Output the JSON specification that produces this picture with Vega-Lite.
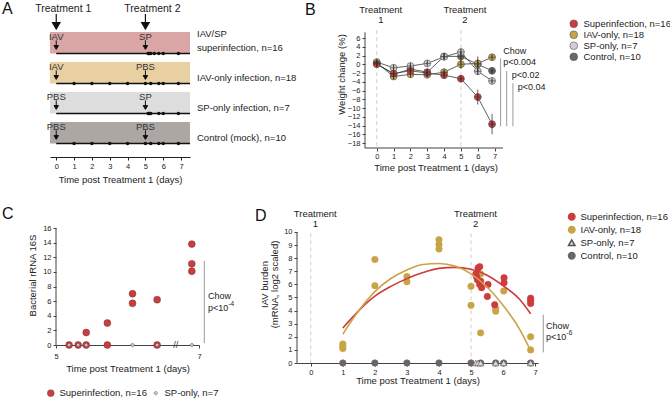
{
  "$schema": "https://vega.github.io/schema/vega-lite/v6.json",
  "padding": {"left": 2, "top": 0, "right": 2, "bottom": 2},
  "background": "white",
  "config": {
    "view": {"stroke": null},
    "font": "Liberation Sans",
    "axis": {"labelFont": "Liberation Sans", "titleFont": "Liberation Sans", "grid": false, "labelColor": "#222", "titleColor": "#222", "titleFontWeight": "normal", "domainColor": "#444", "tickColor": "#444", "labelFontSize": 7.5, "titleFontSize": 9.5, "tickSize": 3, "labelAngle": 0, "labelOverlap": false, "labelBound": false, "labelFlush": false},
    "legend": {"labelFont": "Liberation Sans", "labelColor": "#222"}
  },
  "datasets": {
    "treat": [{"day": 0, "label": "Treatment 1"}, {"day": 5, "label": "Treatment 2"}],
    "aRows": [
      {"group": "IAV/SP superinfection", "pre": "IAV/SP", "label": "superinfection, n=16"},
      {"group": "IAV-only infection", "pre": "", "label": "IAV-only infection, n=18"},
      {"group": "SP-only infection", "pre": "", "label": "SP-only infection, n=7"},
      {"group": "Control (mock)", "pre": "", "label": "Control (mock), n=10"}
    ],
    "aAgents": [
      {"group": "IAV/SP superinfection", "day": 0, "agent": "IAV"},
      {"group": "IAV/SP superinfection", "day": 5, "agent": "SP"},
      {"group": "IAV-only infection", "day": 0, "agent": "IAV"},
      {"group": "IAV-only infection", "day": 5, "agent": "PBS"},
      {"group": "SP-only infection", "day": 0, "agent": "PBS"},
      {"group": "SP-only infection", "day": 5, "agent": "SP"},
      {"group": "Control (mock)", "day": 0, "agent": "PBS"},
      {"group": "Control (mock)", "day": 5, "agent": "PBS"}
    ],
    "aDots": [
      {"group": "IAV/SP superinfection", "day": 5.15}, {"group": "IAV/SP superinfection", "day": 5.2}, {"group": "IAV/SP superinfection", "day": 5.25}, {"group": "IAV/SP superinfection", "day": 5.3}, {"group": "IAV/SP superinfection", "day": 5.5}, {"group": "IAV/SP superinfection", "day": 5.75}, {"group": "IAV/SP superinfection", "day": 6.0}, {"group": "IAV/SP superinfection", "day": 6.85},
      {"group": "IAV-only infection", "day": 1}, {"group": "IAV-only infection", "day": 2}, {"group": "IAV-only infection", "day": 3}, {"group": "IAV-only infection", "day": 4}, {"group": "IAV-only infection", "day": 5}, {"group": "IAV-only infection", "day": 5.3}, {"group": "IAV-only infection", "day": 5.75}, {"group": "IAV-only infection", "day": 6.0}, {"group": "IAV-only infection", "day": 6.85},
      {"group": "SP-only infection", "day": 5.15}, {"group": "SP-only infection", "day": 5.2}, {"group": "SP-only infection", "day": 5.25}, {"group": "SP-only infection", "day": 5.3}, {"group": "SP-only infection", "day": 5.75}, {"group": "SP-only infection", "day": 6.0}, {"group": "SP-only infection", "day": 6.85},
      {"group": "Control (mock)", "day": 1}, {"group": "Control (mock)", "day": 2}, {"group": "Control (mock)", "day": 3}, {"group": "Control (mock)", "day": 4}, {"group": "Control (mock)", "day": 5}, {"group": "Control (mock)", "day": 5.3}, {"group": "Control (mock)", "day": 5.75}, {"group": "Control (mock)", "day": 6.0}, {"group": "Control (mock)", "day": 6.85}
    ],
    "bData": [
      {"group": "Control", "day": 0, "mean": 0.2, "lo": -0.2, "hi": 0.6}, {"group": "Control", "day": 1, "mean": -2.3, "lo": -2.9, "hi": -1.7}, {"group": "Control", "day": 2, "mean": -1.1, "lo": -2.0, "hi": -0.2}, {"group": "Control", "day": 3, "mean": -1.8, "lo": -2.3, "hi": -1.3}, {"group": "Control", "day": 4, "mean": 1.8, "lo": 1.1, "hi": 2.5}, {"group": "Control", "day": 5, "mean": 1.8, "lo": 0.8, "hi": 2.8}, {"group": "Control", "day": 6, "mean": 0.0, "lo": -1.8, "hi": 1.8}, {"group": "Control", "day": 6.85, "mean": -1.5, "lo": -2.0, "hi": -1.0},
      {"group": "SP-only", "day": 0, "mean": 0.5, "lo": 0.1, "hi": 0.9}, {"group": "SP-only", "day": 1, "mean": -0.8, "lo": -1.4, "hi": -0.2}, {"group": "SP-only", "day": 2, "mean": -0.4, "lo": -1.0, "hi": 0.2}, {"group": "SP-only", "day": 3, "mean": 0.2, "lo": -0.3, "hi": 0.7}, {"group": "SP-only", "day": 4, "mean": 1.7, "lo": 1.1, "hi": 2.3}, {"group": "SP-only", "day": 5, "mean": 2.8, "lo": 2.1, "hi": 3.5}, {"group": "SP-only", "day": 6, "mean": -1.6, "lo": -2.4, "hi": -0.8}, {"group": "SP-only", "day": 6.85, "mean": -3.8, "lo": -4.3, "hi": -3.3},
      {"group": "IAV-only", "day": 0, "mean": 0.3, "lo": -0.1, "hi": 0.7}, {"group": "IAV-only", "day": 1, "mean": -2.8, "lo": -3.4, "hi": -2.2}, {"group": "IAV-only", "day": 2, "mean": -2.3, "lo": -2.8, "hi": -1.8}, {"group": "IAV-only", "day": 3, "mean": -2.4, "lo": -2.9, "hi": -1.9}, {"group": "IAV-only", "day": 4, "mean": -1.8, "lo": -2.4, "hi": -1.2}, {"group": "IAV-only", "day": 5, "mean": 0.0, "lo": -1.0, "hi": 1.0}, {"group": "IAV-only", "day": 6, "mean": 0.2, "lo": -0.6, "hi": 1.0}, {"group": "IAV-only", "day": 6.85, "mean": 1.6, "lo": 1.1, "hi": 2.1},
      {"group": "Superinfection", "day": 0, "mean": 0.0, "lo": -0.5, "hi": 0.5}, {"group": "Superinfection", "day": 1, "mean": -2.1, "lo": -2.8, "hi": -1.4}, {"group": "Superinfection", "day": 2, "mean": -1.5, "lo": -2.2, "hi": -0.8}, {"group": "Superinfection", "day": 3, "mean": -2.0, "lo": -2.6, "hi": -1.4}, {"group": "Superinfection", "day": 4, "mean": -2.5, "lo": -3.2, "hi": -1.8}, {"group": "Superinfection", "day": 5, "mean": -3.3, "lo": -3.9, "hi": -2.7}, {"group": "Superinfection", "day": 6, "mean": -7.5, "lo": -9.2, "hi": -5.8}, {"group": "Superinfection", "day": 6.85, "mean": -13.7, "lo": -16.0, "hi": -11.4}
    ],
    "cData": [
      {"group": "Superinfection", "day": 5.13, "value": 0}, {"group": "Superinfection", "day": 5.22, "value": 0}, {"group": "Superinfection", "day": 5.3, "value": 0}, {"group": "Superinfection", "day": 5.3, "value": 1.7}, {"group": "Superinfection", "day": 5.51, "value": 3.0}, {"group": "Superinfection", "day": 5.51, "value": 0}, {"group": "Superinfection", "day": 5.76, "value": 7.0}, {"group": "Superinfection", "day": 5.76, "value": 5.7}, {"group": "Superinfection", "day": 6.01, "value": 6.2}, {"group": "Superinfection", "day": 6.01, "value": 0}, {"group": "Superinfection", "day": 6.83, "value": 13.8}, {"group": "Superinfection", "day": 6.83, "value": 11.1}, {"group": "Superinfection", "day": 6.83, "value": 10.1},
      {"group": "SP-only", "day": 5.13, "value": 0}, {"group": "SP-only", "day": 5.22, "value": 0}, {"group": "SP-only", "day": 5.3, "value": 0}, {"group": "SP-only", "day": 5.76, "value": 0}, {"group": "SP-only", "day": 6.01, "value": 0}, {"group": "SP-only", "day": 6.83, "value": 0}
    ],
    "dPts": [
      {"group": "IAV-only", "day": 1, "value": 1.45}, {"group": "IAV-only", "day": 1, "value": 1.27}, {"group": "IAV-only", "day": 1, "value": 1.1}, {"group": "IAV-only", "day": 2, "value": 7.9}, {"group": "IAV-only", "day": 2, "value": 5.9}, {"group": "IAV-only", "day": 3, "value": 6.6}, {"group": "IAV-only", "day": 3, "value": 6.2}, {"group": "IAV-only", "day": 4, "value": 9.4}, {"group": "IAV-only", "day": 4, "value": 9.05}, {"group": "IAV-only", "day": 4, "value": 8.7}, {"group": "IAV-only", "day": 5, "value": 5.85}, {"group": "IAV-only", "day": 5, "value": 4.4}, {"group": "IAV-only", "day": 5.3, "value": 6.8}, {"group": "IAV-only", "day": 5.3, "value": 2.3}, {"group": "IAV-only", "day": 5.77, "value": 4.15}, {"group": "IAV-only", "day": 5.77, "value": 3.95}, {"group": "IAV-only", "day": 6.02, "value": 5.5}, {"group": "IAV-only", "day": 6.86, "value": 2.0}, {"group": "IAV-only", "day": 6.86, "value": 1.0},
      {"group": "Superinfection", "day": 5.17, "value": 6.6}, {"group": "Superinfection", "day": 5.22, "value": 7.25}, {"group": "Superinfection", "day": 5.27, "value": 7.35}, {"group": "Superinfection", "day": 5.2, "value": 6.35}, {"group": "Superinfection", "day": 5.27, "value": 6.0}, {"group": "Superinfection", "day": 5.33, "value": 5.75}, {"group": "Superinfection", "day": 5.15, "value": 6.8}, {"group": "Superinfection", "day": 5.3, "value": 6.25}, {"group": "Superinfection", "day": 5.53, "value": 6.0}, {"group": "Superinfection", "day": 5.51, "value": 5.08}, {"group": "Superinfection", "day": 5.74, "value": 4.45}, {"group": "Superinfection", "day": 6.03, "value": 6.5}, {"group": "Superinfection", "day": 6.03, "value": 6.12}, {"group": "Superinfection", "day": 6.86, "value": 4.95}, {"group": "Superinfection", "day": 6.86, "value": 4.75}, {"group": "Superinfection", "day": 6.86, "value": 4.55},
      {"group": "Control", "day": 1, "value": 0}, {"group": "Control", "day": 2, "value": 0}, {"group": "Control", "day": 3, "value": 0}, {"group": "Control", "day": 4, "value": 0}, {"group": "Control", "day": 5, "value": 0}, {"group": "Control", "day": 5.3, "value": 0}, {"group": "Control", "day": 5.77, "value": 0}, {"group": "Control", "day": 6.02, "value": 0}, {"group": "Control", "day": 6.86, "value": 0},
      {"group": "SP-only", "day": 5.15, "value": 0}, {"group": "SP-only", "day": 5.22, "value": 0}, {"group": "SP-only", "day": 5.3, "value": 0}, {"group": "SP-only", "day": 5.77, "value": 0}, {"group": "SP-only", "day": 6.02, "value": 0}, {"group": "SP-only", "day": 6.86, "value": 0}
    ],
    "dCurve": [
      {"group": "Superinfection", "day": 1, "value": 2.67}, {"group": "Superinfection", "day": 1.5, "value": 4.0}, {"group": "Superinfection", "day": 2, "value": 5.1}, {"group": "Superinfection", "day": 2.5, "value": 5.85}, {"group": "Superinfection", "day": 3, "value": 6.44}, {"group": "Superinfection", "day": 3.5, "value": 6.9}, {"group": "Superinfection", "day": 4, "value": 7.22}, {"group": "Superinfection", "day": 4.5, "value": 7.3}, {"group": "Superinfection", "day": 5, "value": 7.15}, {"group": "Superinfection", "day": 5.5, "value": 6.7}, {"group": "Superinfection", "day": 6, "value": 5.9}, {"group": "Superinfection", "day": 6.5, "value": 4.9}, {"group": "Superinfection", "day": 6.86, "value": 3.75},
      {"group": "IAV-only", "day": 1, "value": 2.2}, {"group": "IAV-only", "day": 1.5, "value": 4.0}, {"group": "IAV-only", "day": 2, "value": 5.45}, {"group": "IAV-only", "day": 2.5, "value": 6.45}, {"group": "IAV-only", "day": 3, "value": 7.1}, {"group": "IAV-only", "day": 3.5, "value": 7.52}, {"group": "IAV-only", "day": 4, "value": 7.6}, {"group": "IAV-only", "day": 4.5, "value": 7.4}, {"group": "IAV-only", "day": 5, "value": 6.8}, {"group": "IAV-only", "day": 5.5, "value": 5.8}, {"group": "IAV-only", "day": 6, "value": 4.4}, {"group": "IAV-only", "day": 6.5, "value": 2.65}, {"group": "IAV-only", "day": 6.86, "value": 0.95}
    ]
  },
  "bounds": "flush",
  "columns": 2,
  "spacing": {"row": 48, "column": 95},
  "resolve": {"scale": {"color": "independent", "shape": "independent", "size": "independent", "stroke": "independent", "x": "independent", "y": "independent"}, "legend": {"color": "independent", "shape": "independent", "size": "independent", "stroke": "independent"}},
  "concat": [
    {
      "width": 140,
      "height": 157,
      "layer": [
        {
          "data": {"name": "aRows"},
          "mark": {"type": "rect"},
          "encoding": {
            "x": {"datum": -0.35, "type": "quantitative", "scale": {"domain": [-0.35, 7.5], "nice": false, "zero": false}, "axis": {"values": [0, 1, 2, 3, 4, 5, 6, 7], "format": "d", "tickCount": 40, "labelOverlap": false, "title": "Time post Treatment 1 (days)", "labelPadding": 2, "titlePadding": 5, "domainColor": "#222", "tickColor": "#222"}},
            "x2": {"datum": 7.5},
            "y": {"field": "group", "type": "nominal", "scale": {"type": "band", "domain": ["IAV/SP superinfection", "IAV-only infection", "SP-only infection", "Control (mock)"], "paddingInner": 0.283, "paddingOuter": 0.758, "align": 0.703}, "axis": null},
            "color": {"field": "group", "type": "nominal", "scale": {"domain": ["IAV/SP superinfection", "IAV-only infection", "SP-only infection", "Control (mock)"], "range": ["#d9a5a5", "#e9d0a2", "#dddddd", "#aca7a3"]}, "legend": null}
          }
        },
        {
          "data": {"name": "aRows"},
          "mark": {"type": "rule", "color": "#111", "strokeWidth": 1.3},
          "encoding": {
            "x": {"datum": 0, "type": "quantitative"},
            "x2": {"datum": 7.5},
            "y": {"field": "group", "type": "nominal", "bandPosition": 1}
          }
        },
        {
          "data": {"name": "aDots"},
          "mark": {"type": "point", "filled": true, "color": "#111", "size": 12, "opacity": 1},
          "encoding": {
            "x": {"field": "day", "type": "quantitative"},
            "y": {"field": "group", "type": "nominal", "bandPosition": 1}
          }
        },
        {
          "data": {"name": "aAgents"},
          "mark": {"type": "point", "shape": "M0,-1L0,0.3M-0.5,0.15L0.5,0.15L0,1Z", "size": 81, "filled": true, "fill": "#111", "stroke": "#111", "strokeWidth": 1, "opacity": 1},
          "encoding": {
            "x": {"field": "day", "type": "quantitative"},
            "y": {"field": "group", "type": "nominal", "bandPosition": 0.6}
          }
        },
        {
          "data": {"name": "aAgents"},
          "mark": {"type": "text", "fontSize": 9.5, "baseline": "middle", "align": "center", "color": "#333"},
          "encoding": {
            "x": {"field": "day", "type": "quantitative"},
            "y": {"field": "group", "type": "nominal", "bandPosition": 0.22},
            "text": {"field": "agent"}
          }
        },
        {
          "data": {"name": "aRows"},
          "mark": {"type": "text", "fontSize": 9.5, "align": "left", "baseline": "bottom", "dx": 7, "dy": 0, "color": "#222"},
          "encoding": {
            "x": {"datum": 7.5, "type": "quantitative"},
            "y": {"field": "group", "type": "nominal", "bandPosition": 1},
            "text": {"field": "label"}
          }
        },
        {
          "data": {"name": "aRows"},
          "mark": {"type": "text", "fontSize": 9.5, "align": "left", "baseline": "bottom", "dx": 7, "dy": -14, "color": "#222"},
          "encoding": {
            "x": {"datum": 7.5, "type": "quantitative"},
            "y": {"field": "group", "type": "nominal", "bandPosition": 1},
            "text": {"field": "pre"}
          }
        },
        {
          "data": {"name": "treat"},
          "mark": {"type": "text", "fontSize": 10.5, "baseline": "middle", "align": "center", "dx": 7, "yOffset": -33.75, "color": "#222"},
          "encoding": {
            "x": {"field": "day", "type": "quantitative"},
            "y": {"datum": "IAV/SP superinfection", "type": "nominal"},
            "text": {"field": "label"}
          }
        },
        {
          "data": {"name": "treat"},
          "mark": {"type": "point", "shape": "M0,-1L0,0.3M-0.5,0.15L0.5,0.15L0,1Z", "size": 225, "filled": true, "fill": "#111", "stroke": "#111", "strokeWidth": 1.2, "yOffset": -21.25, "opacity": 1},
          "encoding": {
            "x": {"field": "day", "type": "quantitative"},
            "y": {"datum": "IAV/SP superinfection", "type": "nominal"}
          }
        },
        {
          "data": {"values": [{}]},
          "mark": {"type": "text", "text": "A", "fontSize": 16, "align": "left", "baseline": "middle", "dx": -48, "yOffset": -33.5, "color": "#111"},
          "encoding": {
            "x": {"datum": -0.35, "type": "quantitative"},
            "y": {"datum": "IAV/SP superinfection", "type": "nominal"}
          }
        }
      ]
    },
    {
      "width": 206,
      "height": 148,
      "layer": [
        {
          "data": {"name": "treat"},
          "mark": {"type": "rule", "strokeDash": [4, 3], "color": "#dccaca", "strokeWidth": 1},
          "encoding": {
            "x": {"field": "day", "type": "quantitative", "scale": {"domain": [-4.74, 7.5], "nice": false, "zero": false}, "axis": {"values": [0, 1, 2, 3, 4, 5, 6, 7], "format": "d", "tickCount": 40, "labelOverlap": false, "title": "Time post Treatment 1 (days)", "domain": false, "labelPadding": 1, "titlePadding": 3, "titleX": 138.6}},
            "y": {"datum": 7.8, "type": "quantitative", "scale": {"domain": [-19.14, 14.69], "nice": false, "zero": false}, "axis": {"values": [-18, -16, -14, -12, -10, -8, -6, -4, -2, 0, 2, 4, 6], "format": "d", "tickCount": 40, "labelOverlap": false, "title": "Weight change (%)", "domain": false, "offset": -68, "labelPadding": 2, "titlePadding": 1}},
            "y2": {"datum": -19.14}
          }
        },
        {
          "data": {"name": "treat"},
          "mark": {"type": "text", "fontSize": 9.5, "baseline": "top", "align": "center", "dx": 4, "lineBreak": " ", "lineHeight": 10.5, "color": "#222"},
          "encoding": {
            "x": {"field": "day", "type": "quantitative"},
            "y": {"datum": 13.6, "type": "quantitative"},
            "text": {"field": "label"}
          }
        },
        {
          "data": {"values": [{}]},
          "mark": {"type": "rule", "color": "#444", "strokeWidth": 1},
          "encoding": {
            "x": {"datum": -0.7, "type": "quantitative"},
            "y": {"datum": -19.14, "type": "quantitative"},
            "y2": {"datum": 7.3}
          }
        },
        {
          "data": {"values": [{}]},
          "mark": {"type": "rule", "color": "#444", "strokeWidth": 1},
          "encoding": {
            "x": {"datum": -0.7, "type": "quantitative"},
            "x2": {"datum": 7.5},
            "y": {"datum": -19.14, "type": "quantitative"}
          }
        },
        {
          "data": {"name": "bData"},
          "mark": {"type": "line", "color": "#3a3a3a", "strokeWidth": 0.8},
          "encoding": {
            "x": {"field": "day", "type": "quantitative"},
            "y": {"field": "mean", "type": "quantitative", "title": "Weight change (%)"},
            "detail": {"field": "group", "type": "nominal"}
          }
        },
        {
          "data": {"name": "bData"},
          "mark": {"type": "point", "filled": true, "size": 48, "stroke": "#555", "strokeWidth": 0.6, "opacity": 1},
          "encoding": {
            "x": {"field": "day", "type": "quantitative"},
            "y": {"field": "mean", "type": "quantitative", "title": "Weight change (%)"},
            "color": {"field": "group", "type": "nominal", "scale": {"domain": ["Superinfection", "IAV-only", "SP-only", "Control"], "range": ["#cf3a3d", "#c9a347", "#d0d0d0", "#6d6664"]}, "legend": {"title": null, "orient": "none", "legendX": 272, "legendY": 19, "symbolType": "circle", "symbolSize": 60, "symbolStrokeColor": "#555", "symbolStrokeWidth": 0.6, "labelFontSize": 9.5, "labelOffset": 5, "rowPadding": 0, "labelExpr": "datum.label == 'Superinfection' ? 'Superinfection, n=16' : datum.label == 'IAV-only' ? 'IAV-only, n=18' : datum.label == 'SP-only' ? 'SP-only, n=7' : 'Control, n=10'"}}
          }
        },
        {
          "data": {"name": "bData"},
          "mark": {"type": "rule", "color": "#333", "strokeWidth": 0.8},
          "encoding": {
            "x": {"field": "day", "type": "quantitative"},
            "y": {"field": "lo", "type": "quantitative", "title": "Weight change (%)"},
            "y2": {"field": "hi"}
          }
        },
        {
          "data": {"name": "bData"},
          "mark": {"type": "point", "shape": "M-1,0L1,0M0,-1L0,1", "size": 48, "filled": false, "color": "#333", "strokeWidth": 0.6, "opacity": 1},
          "encoding": {
            "x": {"field": "day", "type": "quantitative"},
            "y": {"field": "mean", "type": "quantitative", "title": "Weight change (%)"}
          }
        },
        {
          "data": {"values": [{}]},
          "mark": {"type": "rule", "color": "#999", "strokeWidth": 1},
          "encoding": {"x": {"datum": 7.36, "type": "quantitative"}, "y": {"datum": 1.36, "type": "quantitative"}, "y2": {"datum": -14.2}}
        },
        {
          "data": {"values": [{}]},
          "mark": {"type": "rule", "color": "#999", "strokeWidth": 1},
          "encoding": {"x": {"datum": 7.72, "type": "quantitative"}, "y": {"datum": -1.54, "type": "quantitative"}, "y2": {"datum": -14.2}}
        },
        {
          "data": {"values": [{}]},
          "mark": {"type": "rule", "color": "#999", "strokeWidth": 1},
          "encoding": {"x": {"datum": 8.09, "type": "quantitative"}, "y": {"datum": -4.35, "type": "quantitative"}, "y2": {"datum": -14.2}}
        },
        {
          "data": {"values": [{}]},
          "mark": {"type": "text", "text": "Chow", "fontSize": 9, "align": "left", "baseline": "middle", "color": "#222"},
          "encoding": {"x": {"datum": 7.52, "type": "quantitative"}, "y": {"datum": 3.1, "type": "quantitative"}}
        },
        {
          "data": {"values": [{}]},
          "mark": {"type": "text", "text": "p<0.004", "fontSize": 9, "align": "left", "baseline": "middle", "color": "#222"},
          "encoding": {"x": {"datum": 7.52, "type": "quantitative"}, "y": {"datum": 0.5, "type": "quantitative"}}
        },
        {
          "data": {"values": [{}]},
          "mark": {"type": "text", "text": "p<0.02", "fontSize": 9, "align": "left", "baseline": "middle", "color": "#222"},
          "encoding": {"x": {"datum": 8.02, "type": "quantitative"}, "y": {"datum": -2.4, "type": "quantitative"}}
        },
        {
          "data": {"values": [{}]},
          "mark": {"type": "text", "text": "p<0.04", "fontSize": 9, "align": "left", "baseline": "middle", "color": "#222"},
          "encoding": {"x": {"datum": 8.37, "type": "quantitative"}, "y": {"datum": -5.3, "type": "quantitative"}}
        },
        {
          "data": {"values": [{}]},
          "mark": {"type": "text", "text": "B", "fontSize": 16, "align": "left", "baseline": "alphabetic", "dx": 8, "dy": 14.5, "color": "#111"},
          "encoding": {"x": {"datum": -4.74, "type": "quantitative"}, "y": {"datum": 14.69, "type": "quantitative"}}
        }
      ]
    },
    {
      "width": 152,
      "height": 140,
      "layer": [
        {
          "data": {"values": [{}]},
          "mark": {"type": "rule", "color": "#444", "strokeWidth": 1},
          "encoding": {
            "x": {"datum": 5, "type": "quantitative", "scale": {"domain": [5, 6, 7], "range": [6, 106.7, 149], "nice": false, "zero": false}, "axis": {"values": [5, 6, 7], "tickCount": 40, "labelOverlap": false, "format": "d", "title": "Time post Treatment 1 (days)", "labelPadding": 4, "titlePadding": 4}},
            "y": {"datum": 0, "type": "quantitative", "scale": {"domain": [0, 19.15], "nice": false, "zero": false}, "axis": {"values": [0, 2, 4, 6, 8, 10, 12, 14, 16], "format": "d", "tickCount": 40, "labelOverlap": false, "title": "Bacterial rRNA 16S", "domain": false, "offset": -6, "labelPadding": 2, "titlePadding": 5}},
            "y2": {"datum": 16}
          }
        },
        {
          "data": {"name": "cData"},
          "mark": {"type": "point", "filled": true, "stroke": "#5a4040", "strokeWidth": 0.5, "opacity": 1},
          "encoding": {
            "x": {"field": "day", "type": "quantitative", "title": "Time post Treatment 1 (days)"},
            "y": {"field": "value", "type": "quantitative", "title": "Bacterial rRNA 16S"},
            "color": {"field": "group", "type": "nominal", "scale": {"domain": ["Superinfection", "SP-only"], "range": ["#cf3a3d", "#c4c4c4"]}, "legend": {"title": null, "orient": "none", "direction": "horizontal", "legendX": -4, "legendY": 183, "symbolSize": 45, "symbolStrokeColor": "#666", "symbolStrokeWidth": 0.5, "labelFontSize": 9.5, "labelOffset": 4, "columnPadding": 4, "labelExpr": "datum.label == 'Superinfection' ? 'Superinfection, n=16' : 'SP-only, n=7'"}},
            "shape": {"field": "group", "type": "nominal", "scale": {"domain": ["Superinfection", "SP-only"], "range": ["circle", "diamond"]}, "legend": {"title": null, "orient": "none", "direction": "horizontal", "legendX": -4, "legendY": 183, "symbolSize": 45, "labelFontSize": 9.5, "labelOffset": 4, "columnPadding": 4, "labelExpr": "datum.label == 'Superinfection' ? 'Superinfection, n=16' : 'SP-only, n=7'"}},
            "size": {"field": "group", "type": "nominal", "scale": {"domain": ["Superinfection", "SP-only"], "range": [48, 18]}, "legend": null}
          }
        },
        {
          "data": {"values": [{}]},
          "mark": {"type": "text", "text": "//", "fontSize": 9, "align": "center", "baseline": "middle", "color": "#333"},
          "encoding": {"x": {"datum": 6.45, "type": "quantitative"}, "y": {"datum": 0, "type": "quantitative"}}
        },
        {
          "data": {"values": [{}]},
          "mark": {"type": "rule", "color": "#999", "strokeWidth": 1},
          "encoding": {"x": {"datum": 7.125, "type": "quantitative"}, "y": {"datum": 0.27, "type": "quantitative"}, "y2": {"datum": 11.49}}
        },
        {
          "data": {"values": [{}]},
          "mark": {"type": "text", "text": "Chow", "fontSize": 9, "align": "left", "baseline": "middle", "color": "#222"},
          "encoding": {"x": {"datum": 7.21, "type": "quantitative"}, "y": {"datum": 6.75, "type": "quantitative"}}
        },
        {
          "data": {"values": [{}]},
          "mark": {"type": "text", "text": "p<10", "fontSize": 9, "align": "left", "baseline": "middle", "color": "#222"},
          "encoding": {"x": {"datum": 7.21, "type": "quantitative"}, "y": {"datum": 5.1, "type": "quantitative"}}
        },
        {
          "data": {"values": [{}]},
          "mark": {"type": "text", "text": "-4", "fontSize": 6.5, "align": "left", "baseline": "middle", "dx": 20.5, "color": "#222"},
          "encoding": {"x": {"datum": 7.21, "type": "quantitative"}, "y": {"datum": 5.62, "type": "quantitative"}}
        },
        {
          "data": {"values": [{}]},
          "mark": {"type": "text", "text": "C", "fontSize": 16, "align": "left", "baseline": "alphabetic", "dx": -54, "dy": 13.5, "color": "#111"},
          "encoding": {"x": {"datum": 5, "type": "quantitative"}, "y": {"datum": 19.15, "type": "quantitative"}}
        }
      ]
    },
    {
      "width": 241,
      "height": 158,
      "layer": [
        {
          "data": {"name": "treat"},
          "mark": {"type": "rule", "strokeDash": [4, 3], "color": "#dccaca", "strokeWidth": 1},
          "encoding": {
            "x": {"field": "day", "type": "quantitative", "scale": {"domain": [-0.43, 7.09], "nice": false, "zero": false}, "axis": {"values": [0, 1, 2, 3, 4, 5, 6, 7], "format": "d", "tickCount": 40, "labelOverlap": false, "title": "Time post Treatment 1 (days)", "labelPadding": 2, "titlePadding": 0}},
            "y": {"datum": 9.9, "type": "quantitative", "scale": {"domain": [0, 12.06], "nice": false, "zero": false}, "axis": {"values": [0, 1, 2, 3, 4, 5, 6, 7, 8, 9, 10], "format": "d", "tickCount": 40, "labelOverlap": false, "title": ["IAV burden", "(mRNA, log2 scaled)"], "domain": false, "labelPadding": 2, "titlePadding": 4, "titleLineHeight": 10}},
            "y2": {"datum": 0}
          }
        },
        {
          "data": {"name": "treat"},
          "mark": {"type": "text", "fontSize": 9.5, "baseline": "top", "align": "center", "dx": 4.5, "lineBreak": " ", "lineHeight": 10, "color": "#222"},
          "encoding": {
            "x": {"field": "day", "type": "quantitative"},
            "y": {"datum": 11.75, "type": "quantitative"},
            "text": {"field": "label"}
          }
        },
        {
          "data": {"values": [{}]},
          "mark": {"type": "rule", "color": "#444", "strokeWidth": 1},
          "encoding": {
            "x": {"datum": -0.43, "type": "quantitative"},
            "y": {"datum": 0, "type": "quantitative"},
            "y2": {"datum": 10}
          }
        },
        {
          "data": {"name": "dPts"},
          "mark": {"type": "point", "filled": true, "strokeWidth": 0.6, "opacity": 1},
          "encoding": {
            "x": {"field": "day", "type": "quantitative", "title": "Time post Treatment 1 (days)"},
            "y": {"field": "value", "type": "quantitative", "title": ["IAV burden", "(mRNA, log2 scaled)"]},
            "color": {"field": "group", "type": "nominal", "scale": {"domain": ["Superinfection", "IAV-only", "SP-only", "Control"], "range": ["#cf3a3d", "#c9a347", "#dcdcdc", "#6e6464"]}, "legend": {"title": null, "orient": "none", "legendX": 270, "legendY": 7, "symbolSize": 50, "labelFontSize": 9.5, "labelOffset": 4, "rowPadding": 0, "labelExpr": "datum.label == 'Superinfection' ? 'Superinfection, n=16' : datum.label == 'IAV-only' ? 'IAV-only, n=18' : datum.label == 'SP-only' ? 'SP-only, n=7' : 'Control, n=10'"}},
            "shape": {"field": "group", "type": "nominal", "scale": {"domain": ["Superinfection", "IAV-only", "SP-only", "Control"], "range": ["circle", "circle", "triangle-up", "circle"]}, "legend": {"title": null, "orient": "none", "legendX": 270, "legendY": 7, "symbolSize": 50, "labelFontSize": 9.5, "labelOffset": 4, "rowPadding": 0, "labelExpr": "datum.label == 'Superinfection' ? 'Superinfection, n=16' : datum.label == 'IAV-only' ? 'IAV-only, n=18' : datum.label == 'SP-only' ? 'SP-only, n=7' : 'Control, n=10'"}},
            "size": {"field": "group", "type": "nominal", "scale": {"domain": ["Superinfection", "IAV-only", "SP-only", "Control"], "range": [42, 42, 16, 42]}, "legend": null},
            "stroke": {"field": "group", "type": "nominal", "scale": {"domain": ["Superinfection", "IAV-only", "SP-only", "Control"], "range": ["#cf3a3d", "#c9a347", "#555555", "#6e6464"]}, "legend": null}
          }
        },
        {
          "data": {"name": "dCurve"},
          "mark": {"type": "line", "interpolate": "monotone", "strokeWidth": 1.6},
          "encoding": {
            "x": {"field": "day", "type": "quantitative"},
            "y": {"field": "value", "type": "quantitative"},
            "stroke": {"field": "group", "type": "nominal", "legend": null}
          }
        },
        {
          "data": {"values": [{}]},
          "mark": {"type": "rule", "color": "#999", "strokeWidth": 1},
          "encoding": {"x": {"datum": 7.255, "type": "quantitative"}, "y": {"datum": 0.81, "type": "quantitative"}, "y2": {"datum": 3.69}}
        },
        {
          "data": {"values": [{}]},
          "mark": {"type": "text", "text": "Chow", "fontSize": 9, "align": "left", "baseline": "middle", "color": "#222"},
          "encoding": {"x": {"datum": 7.34, "type": "quantitative"}, "y": {"datum": 2.85, "type": "quantitative"}}
        },
        {
          "data": {"values": [{}]},
          "mark": {"type": "text", "text": "p<10", "fontSize": 9, "align": "left", "baseline": "middle", "color": "#222"},
          "encoding": {"x": {"datum": 7.34, "type": "quantitative"}, "y": {"datum": 1.97, "type": "quantitative"}}
        },
        {
          "data": {"values": [{}]},
          "mark": {"type": "text", "text": "-6", "fontSize": 6.5, "align": "left", "baseline": "middle", "dx": 20.5, "color": "#222"},
          "encoding": {"x": {"datum": 7.34, "type": "quantitative"}, "y": {"datum": 2.26, "type": "quantitative"}}
        },
        {
          "data": {"values": [{}]},
          "mark": {"type": "text", "text": "D", "fontSize": 16, "align": "left", "baseline": "alphabetic", "dx": -42, "dy": 16, "color": "#111"},
          "encoding": {"x": {"datum": -0.43, "type": "quantitative"}, "y": {"datum": 12.06, "type": "quantitative"}}
        }
      ]
    }
  ]
}
